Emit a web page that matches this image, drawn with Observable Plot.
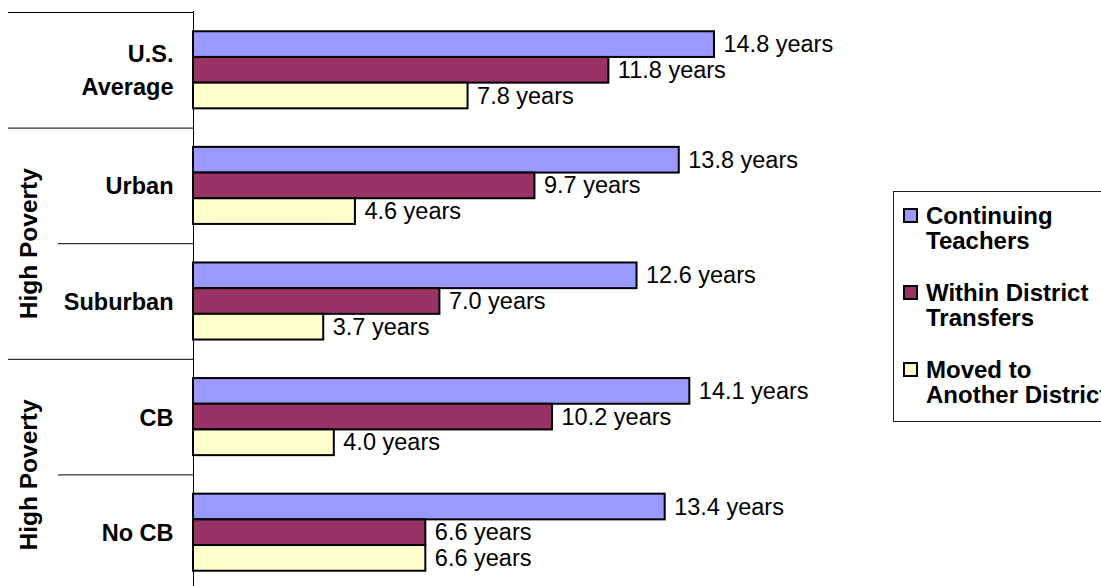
<!DOCTYPE html>
<html>
<head>
<meta charset="utf-8">
<script src="https://cdn.jsdelivr.net/npm/d3@7"></script>
<script src="https://cdn.jsdelivr.net/npm/@observablehq/plot@0.6"></script>
<style>
  html, body { margin: 0; padding: 0; background: #fff; }
  #wrap { position: relative; width: 1101px; height: 586px; overflow: hidden; font-family: "Liberation Sans", Arial, sans-serif; }
  #legend { position: absolute; left: 893px; top: 191px; width: 240px; height: 231px; border: 1px solid #222; box-sizing: border-box; padding-top: 11px; background: #fff; }
  .item { display: flex; align-items: flex-start; margin-left: 9px; margin-bottom: 27px; }
  .sw { width: 15px; height: 15px; box-sizing: border-box; border: 2px solid #000; margin-top: 5px; margin-right: 8px; flex: none; }
  .lab { font-weight: bold; font-size: 24px; line-height: 25px; color: #000; white-space: nowrap; }
</style>
</head>
<body>
<div id="wrap"></div>
<script>
// ---- data ----
const sections = [["U.S. Average"], ["Urban", "Suburban"], ["CB", "No CB"]];
const sectionLabels = ["", "High Poverty", "High Poverty"];
const groups = ["U.S. Average", "Urban", "Suburban", "CB", "No CB"];
const groupLabels = ["U.S.\nAverage", "Urban", "Suburban", "CB", "No CB"];
const series = ["Continuing Teachers", "Within District Transfers", "Moved to Another District"];
const seriesLegend = ["Continuing\nTeachers", "Within District\nTransfers", "Moved to\nAnother District"];
const continuing = [14.8, 13.8, 12.6, 14.1, 13.4];
const withinDistrict = [11.8, 9.7, 7.0, 10.2, 6.6];
const movedDistrict = [7.8, 4.6, 3.7, 4.0, 6.6];
const colors = ["#9999FF", "#993366", "#FFFFCC"];

// ---- layout constants ----
const W = 1101, H = 586;
const axisLeft = 193;      // pixel position of the value axis (x = 0)
const labelLeft = 8;       // where the category separators start

// ---- build table ----
const values = [continuing, withinDistrict, movedDistrict];
const pad = 0.75;                       // outer padding of bars in each group (in bar units)
const step = 1 / (series.length + 2 * pad);
const rows = [];
groups.forEach((g, gi) => {
  series.forEach((s, si) => {
    rows.push({group: g, gi, series: s, si, value: values[si][gi],
      y1: gi + (pad + si) * step, y2: gi + (pad + si + 1) * step, ym: gi + (pad + si + 0.5) * step});
  });
});
const labelRows = groups.map((g, gi) => ({label: groupLabels[gi], y: gi + 0.5}));
const seps = [];
let idx = 0;
sections.forEach((sec) => {
  sec.forEach((g, j) => { seps.push({y: idx, full: j === 0}); idx++; });
});
const sectionRows = [];
idx = 0;
sections.forEach((sec, k) => {
  if (sectionLabels[k]) sectionRows.push({label: sectionLabels[k], y: idx + sec.length / 2});
  idx += sec.length;
});

const chart = Plot.plot({
  width: W,
  height: H,
  marginLeft: labelLeft,
  marginTop: 11,
  marginRight: W - axisLeft,   // frame = the category label area; the value scale has its own range
  marginBottom: 0,
  x: {domain: [0, 20], range: [axisLeft, axisLeft + 704], axis: null},
  y: {domain: [0, groups.length], range: [12, 590], axis: null},
  color: {domain: series, range: colors},
  style: {fontFamily: "'Liberation Sans', Arial, sans-serif", background: "#fff", overflow: "visible"},
  marks: [
    Plot.ruleY(seps.filter(d => d.full), {y: "y", stroke: "#000", strokeWidth: 1}),
    Plot.ruleY(seps.filter(d => !d.full), {y: "y", insetLeft: 50, stroke: "#000", strokeWidth: 1}),
    Plot.ruleX([0], {stroke: "#000", strokeWidth: 1}),
    Plot.rect(rows, {x1: d => 0, x2: "value", y1: "y1", y2: "y2", fill: "series", stroke: "#000", strokeWidth: 2}),
    Plot.text(rows, {x: "value", y: "ym", text: d => d.value.toFixed(1) + " years", textAnchor: "start", dx: 9, fontSize: 23.5, fill: "#000"}),
    Plot.text(labelRows, {x: d => 0, y: "y", text: "label", textAnchor: "end", dx: -20, dy: -2, fontSize: 23.5, fontWeight: "bold", lineHeight: 1.4, fill: "#000"}),
    Plot.text(sectionRows, {y: "y", text: "label", frameAnchor: "left", textAnchor: "middle", dx: 21, rotate: -90, fontSize: 24.5, fontWeight: "bold", fill: "#000"})
  ]
});
const wrap = document.getElementById("wrap");
wrap.appendChild(chart);

// ---- legend ----
const legend = document.createElement("div");
legend.id = "legend";
series.forEach((s, i) => {
  const item = document.createElement("div");
  item.className = "item";
  const sw = document.createElement("div");
  sw.className = "sw";
  sw.style.background = colors[i];
  const lab = document.createElement("div");
  lab.className = "lab";
  seriesLegend[i].split("\n").forEach((line) => {
    const l = document.createElement("div");
    l.textContent = line;
    lab.appendChild(l);
  });
  item.appendChild(sw);
  item.appendChild(lab);
  legend.appendChild(item);
});
wrap.appendChild(legend);
</script>
</body>
</html>
